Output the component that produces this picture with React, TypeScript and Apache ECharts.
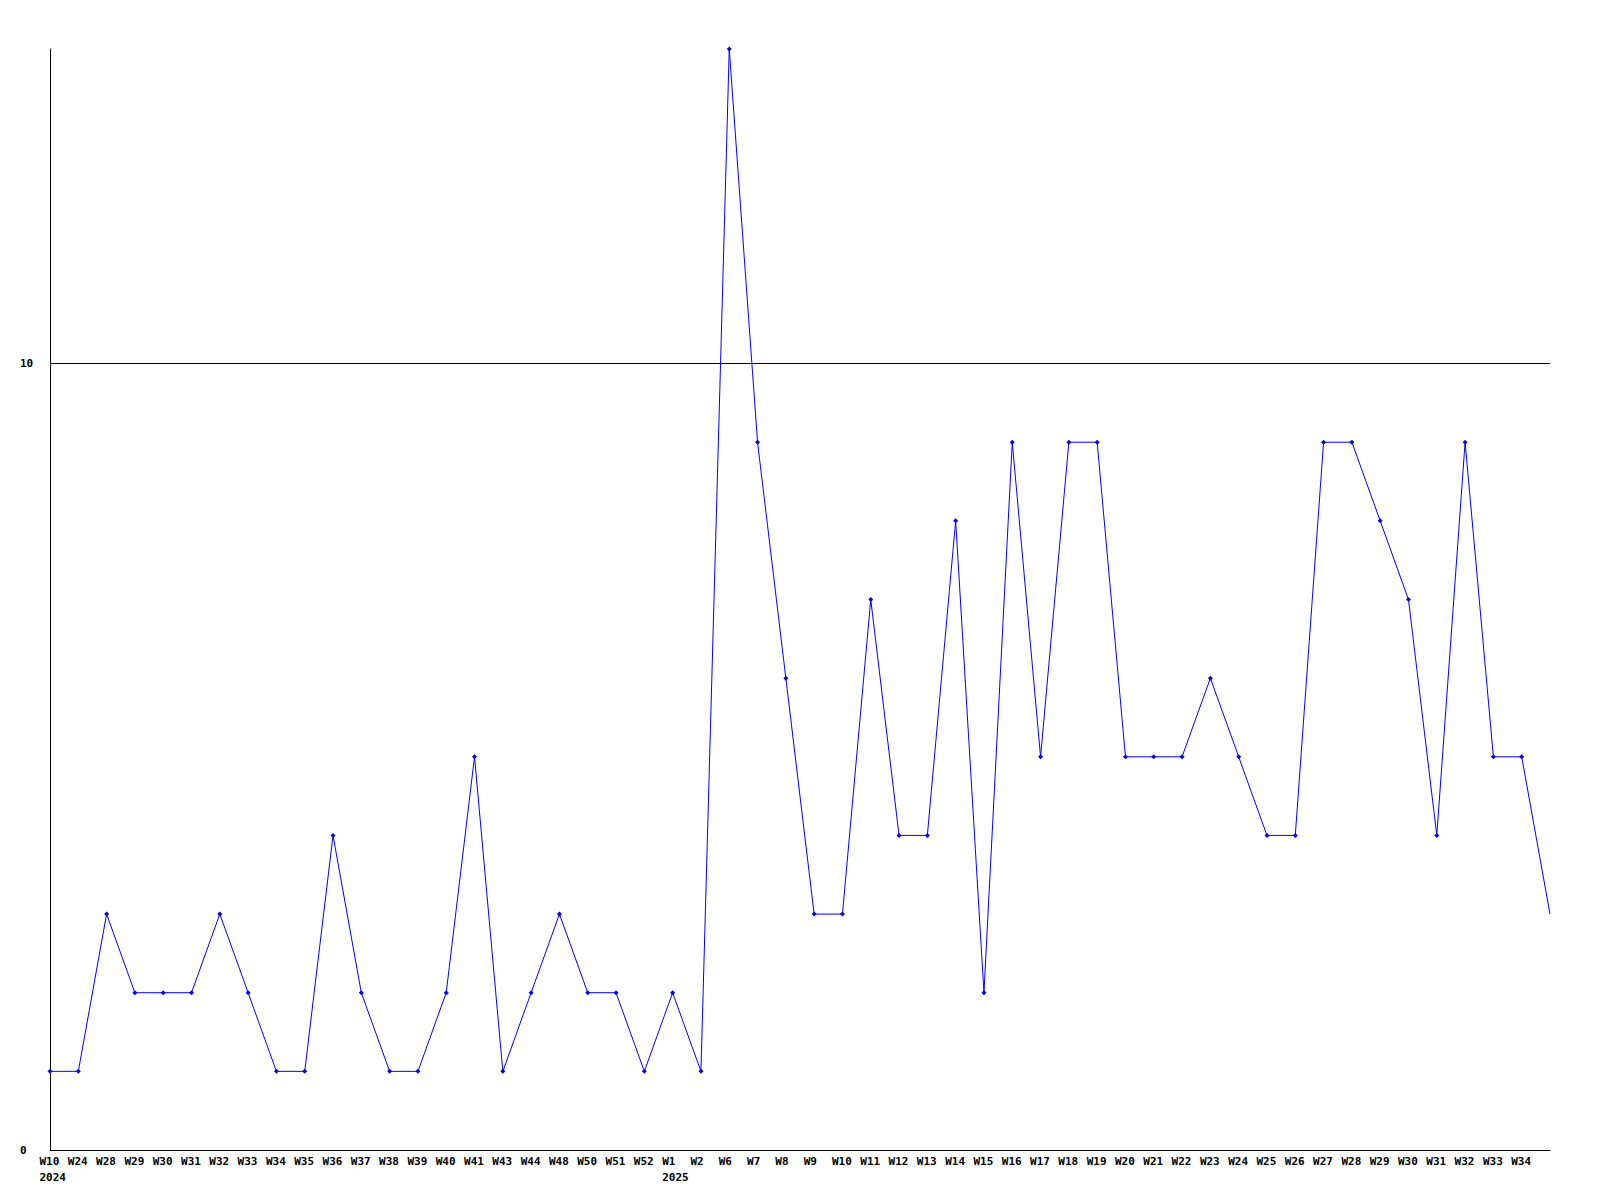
import React, { useEffect, useRef } from "react";
import * as echarts from "echarts";

const weeks = [
  "W10", "W24", "W28", "W29", "W30", "W31", "W32", "W33", "W34", "W35",
  "W36", "W37", "W38", "W39", "W40", "W41", "W43", "W44", "W48", "W50",
  "W51", "W52", "W1", "W2", "W6", "W7", "W8", "W9", "W10", "W11",
  "W12", "W13", "W14", "W15", "W16", "W17", "W18", "W19", "W20", "W21",
  "W22", "W23", "W24", "W25", "W26", "W27", "W28", "W29", "W30", "W31",
  "W32", "W33", "W34", "W35",
];
const yearMarks: Record<number, string> = { 0: "2024", 22: "2025" };
const values = [
  1, 1, 3, 2, 2, 2, 3, 2, 1, 1,
  4, 2, 1, 1, 2, 5, 1, 2, 3, 2,
  2, 1, 2, 1, 14, 9, 6, 3, 3, 7,
  4, 4, 8, 2, 9, 5, 9, 9, 5, 5,
  5, 6, 5, 4, 4, 9, 9, 8, 7, 4,
  9, 5, 5, 3,
];
const yTicks = { min: 0, max: 14, interval: 10 };
const refLine = 10;

const FONT = "'DejaVu Sans Mono', 'Liberation Mono', monospace";

export default function App() {
  const ref = useRef<HTMLDivElement>(null);
  useEffect(() => {
    if (!ref.current) return;
    const chart = echarts.init(ref.current, undefined, { renderer: "svg" });
    const seriesData = values.map((v, i) =>
      i === values.length - 1 ? { value: v, symbol: "none" } : v
    );
    chart.setOption({
      animation: false,
      backgroundColor: "#ffffff",
      grid: { left: 50, right: 50, top: 49, bottom: 50, containLabel: false },
      xAxis: {
        type: "category",
        data: weeks,
        boundaryGap: false,
        axisLine: { show: true, lineStyle: { color: "#000", width: 1 } },
        axisTick: { show: false },
        splitLine: { show: false },
        axisLabel: {
          interval: 0,
          margin: 3,
          fontFamily: FONT,
          fontWeight: "bold",
          fontSize: 11,
          color: "#000",
          lineHeight: 16,
          formatter: (v: string, i: number) => {
            if (i === weeks.length - 1) return "";
            const y = yearMarks[i];
            return y ? `{a|${v}}\n{a|${y}}` : `{a|${v}}`;
          },
          rich: {
            a: {
              width: 21,
              align: "left",
              fontFamily: FONT,
              fontWeight: "bold",
              fontSize: 11,
              color: "#000",
              lineHeight: 16,
            },
          },
        },
      },
      yAxis: {
        type: "value",
        min: yTicks.min,
        max: yTicks.max,
        interval: yTicks.interval,
        axisLine: { show: true, lineStyle: { color: "#000", width: 1 } },
        axisTick: { show: false },
        splitLine: { show: false },
        axisLabel: {
          showMaxLabel: false,
          align: "left",
          margin: 30,
          fontFamily: FONT,
          fontWeight: "bold",
          fontSize: 11,
          color: "#000",
        },
      },
      series: [
        {
          type: "line",
          data: seriesData,
          symbol: "diamond",
          symbolSize: 5,
          showSymbol: true,
          lineStyle: { color: "#0000ff", width: 1 },
          itemStyle: { color: "#0000ff" },
          markLine: {
            silent: true,
            symbol: ["none", "none"],
            label: { show: false },
            lineStyle: { color: "#000", width: 1, type: "solid" },
            data: [{ yAxis: refLine }],
          },
          z: 3,
        },
      ],
    });
    return () => chart.dispose();
  }, []);
  return <div ref={ref} style={{ width: 1600, height: 1200, margin: -8 }} />;
}
